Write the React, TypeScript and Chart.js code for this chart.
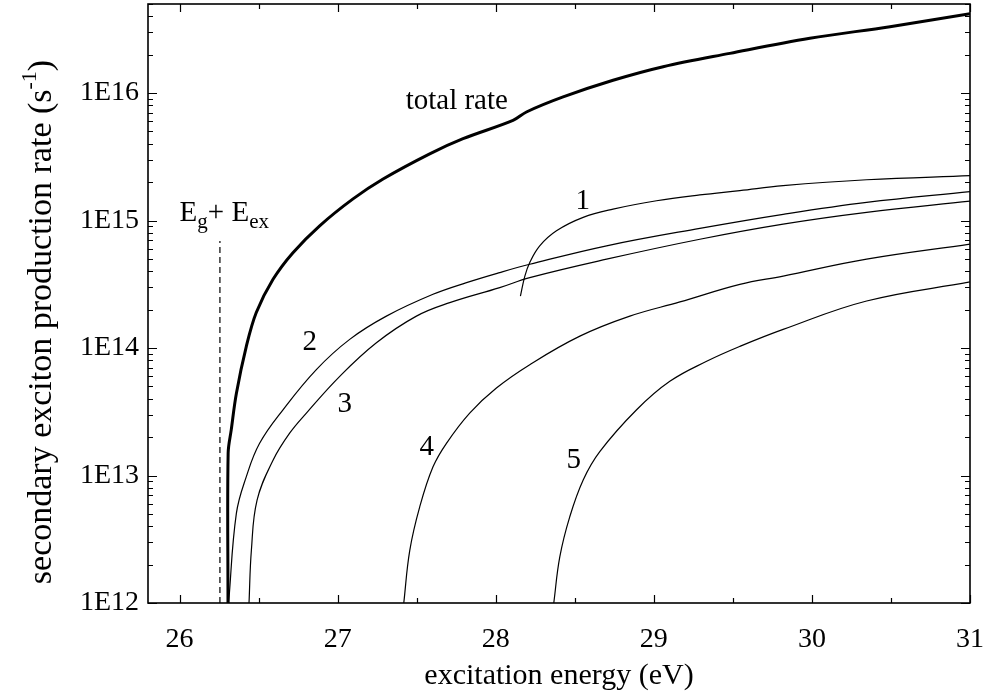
import React, { useEffect, useRef } from 'react';
import { Chart, registerables } from 'chart.js';

Chart.register(...registerables);

// ---- data (excitation energy in eV, rate in s^-1) ----
const totalX = [26.306, 26.307, 26.327, 26.359, 26.422, 26.485, 26.591, 26.717, 26.886, 27.097, 27.287, 27.582, 27.793, 28.109, 28.194, 28.426, 28.742, 29.059, 29.481, 29.987, 30.494, 31.0];
const totalY = [1e12, 1.5e13, 2.3e13, 4.4e13, 1.03e14, 1.9e14, 3.46e14, 5.6e14, 9.1e14, 1.48e15, 2.12e15, 3.34e15, 4.39e15, 6.11e15, 7.11e15, 9.33e15, 1.26e16, 1.61e16, 2.05e16, 2.69e16, 3.32e16, 4.2e16];

const c1X = [28.156, 28.184, 28.215, 28.278, 28.384, 28.553, 28.742, 29.017, 29.291, 29.544, 29.818, 30.346, 31.0];
const c1Y = [2.56e14, 3.67e14, 4.69e14, 6.34e14, 8.32e14, 1.06e15, 1.23e15, 1.43e15, 1.59e15, 1.72e15, 1.88e15, 2.09e15, 2.25e15];

const c2X = [26.31, 26.359, 26.422, 26.506, 26.654, 26.865, 27.076, 27.308, 27.603, 27.815, 28.025, 28.215, 28.701, 29.291, 29.818, 30.346, 31.0];
const c2Y = [1e12, 5.04e12, 9.8e12, 1.79e13, 3.28e13, 6.78e13, 1.17e14, 1.78e14, 2.64e14, 3.26e14, 3.91e14, 4.54e14, 6.34e14, 8.69e14, 1.12e15, 1.39e15, 1.69e15];

const c3X = [26.439, 26.454, 26.49, 26.591, 26.696, 26.802, 27.013, 27.245, 27.498, 27.709, 28.025, 28.215, 28.701, 29.291, 29.818, 30.346, 31.0];
const c3Y = [1e12, 2.59e12, 6.41e12, 1.32e13, 2.15e13, 3.09e13, 6.0e13, 1.1e14, 1.78e14, 2.27e14, 2.98e14, 3.57e14, 4.98e14, 7.14e14, 9.38e14, 1.16e15, 1.42e15];

const c4X = [27.418, 27.456, 27.519, 27.603, 27.688, 27.835, 28.004, 28.215, 28.532, 28.848, 29.165, 29.544, 29.818, 30.346, 31.0];
const c4Y = [1e12, 2.59e12, 5.68e12, 1.17e13, 1.79e13, 3.09e13, 4.86e13, 7.41e13, 1.24e14, 1.78e14, 2.3e14, 3.16e14, 3.67e14, 4.98e14, 6.53e14];

const c5X = [28.367, 28.405, 28.468, 28.553, 28.658, 28.891, 29.101, 29.334, 29.544, 29.818, 30.346, 31.0];
const c5Y = [1e12, 2.3e12, 4.74e12, 9.23e12, 1.54e13, 3.28e13, 5.48e13, 7.87e13, 1.03e14, 1.4e14, 2.34e14, 3.3e14];

const thresholdX = [26.255, 26.255];
const thresholdY = [1e12, 6.9e14];

const xTicks = [26, 27, 28, 29, 30, 31];
const yTicks = [1e12, 1e13, 1e14, 1e15, 1e16];
const yTickLabels = ['1E12', '1E13', '1E14', '1E15', '1E16'];

const curveLabels = ['1', '2', '3', '4', '5'];
const curveLabelX = [28.551, 26.823, 27.044, 27.563, 28.494];
const curveLabelY = [1.23e15, 9.7e13, 3.16e13, 1.45e13, 1.15e13];

const totalLabel = 'total rate';
const totalLabelX = 27.43;
const totalLabelY = 7.55e15;

const eLabelX = 26.0;
const eLabelY = 1.0e15;

const xTitle = 'excitation energy (eV)';
const yTitleMain = 'secondary exciton production rate (s';
const yTitleSup = '-1';
const yTitleEnd = ')';

const FONT = '"Liberation Serif", "Times New Roman", Times, serif';

const pts = (xs: number[], ys: number[]) => xs.map((x, i) => ({ x, y: ys[i] }));

const zeroPad = (s: any) => {
  s.paddingLeft = 0;
  s.paddingRight = 0;
  s.paddingTop = 0;
  s.paddingBottom = 0;
};

const decorPlugin = {
  id: 'decor',
  afterDraw(chart: any) {
    const { ctx, chartArea: a, scales } = chart;
    const xs = scales.x;
    const ys = scales.y;
    ctx.save();
    ctx.strokeStyle = '#000';
    ctx.lineWidth = 1.6;
    ctx.strokeRect(a.left, a.top, a.right - a.left, a.bottom - a.top);

    ctx.lineWidth = 1.2;
    ctx.beginPath();
    for (let k = 0; k <= 10; k++) {
      const v = 26 + k * 0.5;
      const px = Math.round(xs.getPixelForValue(v)) + 0.5;
      const len = k % 2 === 0 ? 8 : 5;
      ctx.moveTo(px, a.bottom);
      ctx.lineTo(px, a.bottom - len);
      ctx.moveTo(px, a.top);
      ctx.lineTo(px, a.top + len);
    }
    for (let e = 12; e <= 16; e++) {
      for (let m = 1; m <= 9; m++) {
        const v = m * Math.pow(10, e);
        if (v > ys.max * 1.0001) break;
        const py = Math.round(ys.getPixelForValue(v)) + 0.5;
        const len = m === 1 ? 9 : 5;
        ctx.moveTo(a.left, py);
        ctx.lineTo(a.left + len, py);
        ctx.moveTo(a.right, py);
        ctx.lineTo(a.right - len, py);
      }
    }
    ctx.stroke();

    ctx.fillStyle = '#000';
    ctx.textBaseline = 'alphabetic';

    // curve labels
    ctx.font = `29px ${FONT}`;
    ctx.textAlign = 'center';
    curveLabels.forEach((t, i) => {
      ctx.fillText(t, xs.getPixelForValue(curveLabelX[i]), ys.getPixelForValue(curveLabelY[i]));
    });
    ctx.textAlign = 'left';
    ctx.fillText(totalLabel, xs.getPixelForValue(totalLabelX), ys.getPixelForValue(totalLabelY));

    // E_g + E_ex
    let ex = xs.getPixelForValue(eLabelX);
    const ey = ys.getPixelForValue(eLabelY);
    const big = `29px ${FONT}`;
    const small = `21px ${FONT}`;
    const seg = (t: string, f: string, dy: number) => {
      ctx.font = f;
      ctx.fillText(t, ex, ey + dy);
      ex += ctx.measureText(t).width;
    };
    seg('E', big, 0);
    seg('g', small, 7);
    seg('+ ', big, 0);
    seg('E', big, 0);
    seg('ex', small, 7);

    // x title
    ctx.font = `30px ${FONT}`;
    ctx.textAlign = 'center';
    ctx.fillText(xTitle, (a.left + a.right) / 2, 684);

    // y title (rotated, with superscript)
    ctx.save();
    ctx.translate(51, 322);
    ctx.rotate(-Math.PI / 2);
    ctx.textAlign = 'left';
    const mainF = `34px ${FONT}`;
    const supF = `22px ${FONT}`;
    ctx.font = mainF;
    const w1 = ctx.measureText(yTitleMain).width;
    const w3 = ctx.measureText(yTitleEnd).width;
    ctx.font = supF;
    const w2 = ctx.measureText(yTitleSup).width;
    let u = -(w1 + w2 + w3) / 2;
    ctx.font = mainF;
    ctx.fillText(yTitleMain, u, 0);
    u += w1;
    ctx.font = supF;
    ctx.fillText(yTitleSup, u, -15);
    u += w2;
    ctx.font = mainF;
    ctx.fillText(yTitleEnd, u, 0);
    ctx.restore();

    ctx.restore();
  },
};

export default function App() {
  const ref = useRef<HTMLCanvasElement | null>(null);
  useEffect(() => {
    if (!ref.current) return;
    const thin = { borderColor: '#000', borderWidth: 1.2, pointRadius: 0, fill: false, tension: 0.4 };
    const chart = new Chart(ref.current, {
      type: 'line',
      data: {
        datasets: [
          { data: pts(totalX, totalY), borderColor: '#000', borderWidth: 3, pointRadius: 0, fill: false, tension: 0.35 },
          { data: pts(c1X, c1Y), ...thin },
          { data: pts(c2X, c2Y), ...thin },
          { data: pts(c3X, c3Y), ...thin },
          { data: pts(c4X, c4Y), ...thin },
          { data: pts(c5X, c5Y), ...thin },
          { data: pts(thresholdX, thresholdY), borderColor: '#000', borderWidth: 1.2, borderDash: [6, 4], pointRadius: 0, fill: false, tension: 0 },
        ],
      } as any,
      options: {
        responsive: false,
        animation: false,
        devicePixelRatio: 1,
        layout: { padding: { left: 0, right: 14, top: 4, bottom: 0 } },
        plugins: { legend: { display: false }, tooltip: { enabled: false } },
        scales: {
          x: {
            type: 'linear',
            min: 25.8,
            max: 31,
            grid: { display: false, drawTicks: false },
            border: { display: false },
            afterBuildTicks: (s: any) => {
              s.ticks = xTicks.map((v) => ({ value: v }));
            },
            afterFit: (s: any) => {
              s.height = 89;
              zeroPad(s);
            },
            ticks: {
              padding: 20,
              color: '#000',
              autoSkip: false,
              maxRotation: 0,
              font: { family: FONT, size: 28 },
              callback: (v: any) => String(v),
            },
          },
          y: {
            type: 'logarithmic',
            min: 1e12,
            max: 5e16,
            grid: { display: false, drawTicks: false },
            border: { display: false },
            afterBuildTicks: (s: any) => {
              s.ticks = yTicks.map((v) => ({ value: v }));
            },
            afterFit: (s: any) => {
              s.width = 148;
              zeroPad(s);
            },
            ticks: {
              padding: 9,
              color: '#000',
              autoSkip: false,
              font: { family: FONT, size: 28 },
              callback: (_v: any, i: number) => yTickLabels[i],
            },
          },
        },
      } as any,
      plugins: [decorPlugin],
    });
    return () => chart.destroy();
  }, []);
  return (
    <div style={{ position: 'fixed', left: 0, top: 0, width: 984, height: 692, background: '#fff' }}>
      <canvas ref={ref} width={984} height={692} style={{ display: 'block' }} />
    </div>
  );
}
